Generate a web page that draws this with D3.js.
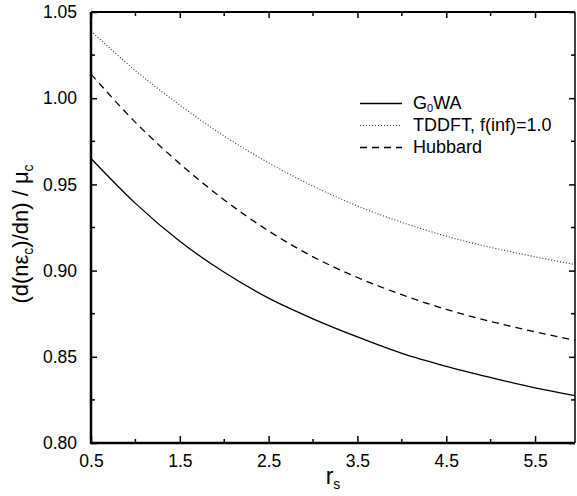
<!DOCTYPE html>
<html><head><meta charset="utf-8">
<script src="https://cdn.jsdelivr.net/npm/d3@7"></script>
<style>body{margin:0;background:#fff}svg{display:block}text{font-family:"Liberation Sans",Arial,Helvetica,sans-serif;fill:#000}</style>
</head><body>
<svg id="c" width="577" height="496"></svg>
<script>
const rs = [0.5, 1.0, 1.5, 2.0, 2.5, 3.0, 3.5, 4.0, 4.5, 5.0, 5.5, 5.95];
const g0wa = [0.965, 0.939, 0.917, 0.899, 0.884, 0.872, 0.8615, 0.852, 0.8445, 0.838, 0.832, 0.8275];
const tddft = [1.039, 1.016, 0.996, 0.978, 0.9625, 0.949, 0.9375, 0.928, 0.920, 0.9135, 0.908, 0.9035];
const hubbard = [1.014, 0.986, 0.962, 0.941, 0.923, 0.908, 0.896, 0.886, 0.8775, 0.8705, 0.8645, 0.8595];
const xMajor = [0.5, 1.5, 2.5, 3.5, 4.5, 5.5];
const xMinor = [1.0, 2.0, 3.0, 4.0, 5.0];
const yMajor = [0.80, 0.85, 0.90, 0.95, 1.00, 1.05];
const yMinor = [0.825, 0.875, 0.925, 0.975, 1.025];
const seriesNames = ["G0WA", "TDDFT, f(inf)=1.0", "Hubbard"];

(function () {
const svg = d3.select("#c");
const L = 91, R = 575, T = 12, B = 443;
const x = d3.scaleLinear().domain([0.5, 5.95]).range([L, R]);
const y = d3.scaleLinear().domain([0.80, 1.05]).range([B, T]);

const series = [
  {name: seriesNames[0], vals: g0wa, dash: null, color: "#000", w: 1.3},
  {name: seriesNames[1], vals: tddft, dash: "1,2", color: "#333", w: 1.1},
  {name: seriesNames[2], vals: hubbard, dash: "7,5", color: "#000", w: 1.3}
];
const line = d3.line().x(d => x(d[0])).y(d => y(d[1])).curve(d3.curveMonotoneX);
series.forEach(s => {
  svg.append("path").datum(rs.map((r, i) => [r, s.vals[i]]))
    .attr("d", line).attr("fill", "none").attr("stroke", s.color)
    .attr("stroke-width", s.w).attr("stroke-dasharray", s.dash);
});

const fs = "17.5px";
const ax = svg.append("g");
const gB = ax.append("g").attr("transform", `translate(0,${B})`)
  .call(d3.axisBottom(x).tickValues(xMajor).tickSizeInner(-7).tickSizeOuter(0).tickPadding(12).tickFormat(d3.format(".1f")));
gB.append("g").selectAll("line").data(xMinor).join("line")
  .attr("x1", d => x(d)).attr("x2", d => x(d)).attr("y1", 0).attr("y2", -4).attr("stroke", "#000").attr("stroke-width", 1.5);
const gT = ax.append("g").attr("transform", `translate(0,${T})`)
  .call(d3.axisTop(x).tickValues(xMajor).tickSizeInner(-6).tickSizeOuter(0).tickFormat(""));
gT.append("g").selectAll("line").data(xMinor).join("line")
  .attr("x1", d => x(d)).attr("x2", d => x(d)).attr("y1", 0).attr("y2", 4).attr("stroke", "#000").attr("stroke-width", 1.5);
const gL = ax.append("g").attr("transform", `translate(${L},0)`)
  .call(d3.axisLeft(y).tickValues(yMajor).tickSizeInner(-6).tickSizeOuter(0).tickPadding(14).tickFormat(d3.format(".2f")));
gL.append("g").selectAll("line").data(yMinor).join("line")
  .attr("y1", d => y(d)).attr("y2", d => y(d)).attr("x1", 0).attr("x2", 4).attr("stroke", "#000").attr("stroke-width", 1.5);
const gR = ax.append("g").attr("transform", `translate(${R},0)`)
  .call(d3.axisRight(y).tickValues(yMajor).tickSizeInner(-6).tickSizeOuter(0).tickFormat(""));
gR.append("g").selectAll("line").data(yMinor).join("line")
  .attr("y1", d => y(d)).attr("y2", d => y(d)).attr("x1", 0).attr("x2", -4).attr("stroke", "#000").attr("stroke-width", 1.5);

ax.selectAll(".tick line").attr("stroke-width", 1.5);
ax.selectAll(".tick text").style("font-size", fs).style("font-family", '"Liberation Sans",Arial,sans-serif').attr("fill", "#000");
ax.selectAll(".domain").remove();
svg.append("line").attr("x1", L).attr("x2", L).attr("y1", T).attr("y2", B + 1).attr("stroke", "#000").attr("stroke-width", 2.5);
svg.append("line").attr("x1", L - 1).attr("x2", R).attr("y1", B).attr("y2", B).attr("stroke", "#000").attr("stroke-width", 2.5);
svg.append("line").attr("x1", L).attr("x2", R).attr("y1", T).attr("y2", T).attr("stroke", "#000").attr("stroke-width", 2);
svg.append("line").attr("x1", R).attr("x2", R).attr("y1", T).attr("y2", B).attr("stroke", "#000").attr("stroke-width", 1.5);

const xl = svg.append("text").attr("x", 333).attr("y", 484).attr("text-anchor", "middle").style("font-size", "23px");
xl.append("tspan").text("r");
xl.append("tspan").attr("dy", 5).style("font-size", "14px").text("s");

const yl = svg.append("text").attr("transform", "translate(28,234) rotate(-90)").attr("text-anchor", "middle").style("font-size", "22px");
yl.append("tspan").text("(d(nε");
yl.append("tspan").attr("dy", 5).style("font-size", "14px").text("c");
yl.append("tspan").attr("dy", -5).text(")/dn) / μ");
yl.append("tspan").attr("dy", 5).style("font-size", "14px").text("c");

const legY = [103.5, 125.5, 147.5];
series.forEach((s, i) => {
  svg.append("line").attr("x1", 360).attr("x2", 402).attr("y1", legY[i]).attr("y2", legY[i])
    .attr("stroke", s.color).attr("stroke-width", s.w).attr("stroke-dasharray", s.dash);
  const t = svg.append("text").attr("x", 413).attr("y", legY[i] + 5.5).style("font-size", "18px");
  if (i === 0) {
    t.append("tspan").text("G");
    t.append("tspan").attr("dy", 3).style("font-size", "11px").text("0");
    t.append("tspan").attr("dy", -3).text("WA");
  } else {
    t.text(s.name);
  }
});
})();
</script>
</body></html>
